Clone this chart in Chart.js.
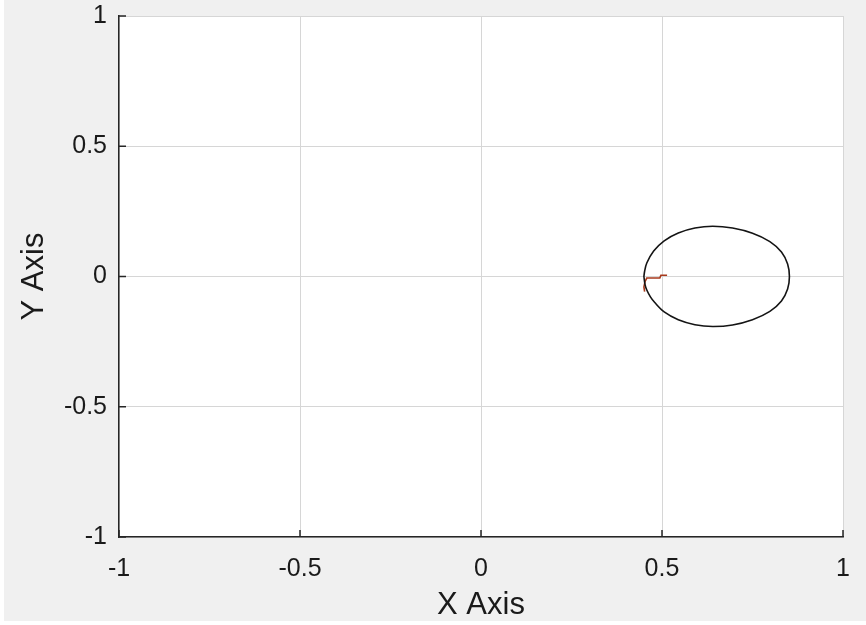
<!DOCTYPE html>
<html lang="en">
<head>
<meta charset="UTF-8">
<title>X / Y trajectory</title>
<script src="https://cdn.jsdelivr.net/npm/chart.js"></script>
<style>
  html, body { margin: 0; padding: 0; background: #fff; }
  canvas { display: block; }
</style>
</head>
<body>
<canvas id="plot" width="866" height="625"></canvas>
<script>
const xTicks = [-1, -0.5, 0, 0.5, 1];
const yTicks = [-1, -0.5, 0, 0.5, 1];

// closed loop
const loopX = [0.450, 0.453, 0.458, 0.468, 0.480, 0.506, 0.545, 0.591, 0.640, 0.695, 0.750, 0.798, 0.830, 0.847, 0.852,
               0.847, 0.830, 0.798, 0.750, 0.695, 0.640, 0.591, 0.545, 0.506, 0.477, 0.458, 0.452, 0.450];
const loopY = [0.000, -0.030, -0.052, -0.078, -0.100, -0.136, -0.166, -0.185, -0.192, -0.186, -0.166, -0.134, -0.094, -0.048, 0.000,
               0.048, 0.094, 0.134, 0.166, 0.186, 0.193, 0.186, 0.167, 0.137, 0.098, 0.052, 0.020, 0.000];

// short red start segment
const startX = [0.452, 0.450, 0.453, 0.458, 0.494, 0.497, 0.514];
const startY = [-0.058, -0.040, -0.020, -0.006, -0.006, 0.005, 0.005];

const FONT = "'Liberation Sans', Arial, Helvetica, sans-serif";
const INK = '#1a1a1a';

function pairs(xs, ys) {
    return xs.map((x, i) => ({ x: x, y: ys[i] }));
}

const bgPlugin = {
    id: 'bg',
    beforeDraw(chart) {
        const c = chart.ctx, a = chart.chartArea;
        c.save();
        c.fillStyle = '#ffffff';
        c.fillRect(0, 0, chart.width, chart.height);
        c.fillStyle = '#f0f0f0';
        c.fillRect(4, 0, chart.width - 4, 621);
        c.fillStyle = '#ffffff';
        c.fillRect(a.left, a.top, a.right - a.left, a.bottom - a.top);
        c.restore();
    }
};

// matlab style inward ticks on left and bottom axes
const innerTicks = {
    id: 'innerTicks',
    afterDraw(chart) {
        const c = chart.ctx, a = chart.chartArea;
        const sx = chart.scales.x, sy = chart.scales.y;
        c.save();
        c.strokeStyle = '#262626';
        c.lineWidth = 1.5;
        c.beginPath();
        xTicks.forEach(v => {
            const px = sx.getPixelForValue(v);
            c.moveTo(px, a.bottom);
            c.lineTo(px, a.bottom - 7);
        });
        yTicks.forEach(v => {
            const py = sy.getPixelForValue(v);
            c.moveTo(a.left, py);
            c.lineTo(a.left + 7, py);
        });
        c.stroke();
        c.restore();
    }
};

new Chart(document.getElementById('plot'), {
    type: 'scatter',
    data: {
        datasets: [
            { data: pairs(loopX, loopY), showLine: true, borderColor: '#141414', borderWidth: 1.6, pointRadius: 0, tension: 0.35 },
            { data: pairs(startX, startY), showLine: true, borderColor: '#a83a1c', borderWidth: 1.6, pointRadius: 0, tension: 0 }
        ]
    },
    options: {
        responsive: false,
        animation: false,
        layout: { padding: { top: 16, right: 23, left: 0, bottom: 0 } },
        plugins: { legend: { display: false }, tooltip: { enabled: false } },
        scales: {
            x: {
                type: 'linear', min: -1, max: 1,
                afterBuildTicks: s => { s.ticks = xTicks.map(v => ({ value: v })); },
                afterFit: s => { s.height = 88; s.paddingLeft = 0; s.paddingRight = 0; },
                grid: { color: '#d6d6d6', drawTicks: false },
                border: { color: '#262626', width: 1.5 },
                ticks: { color: INK, font: { family: FONT, size: 25 }, padding: 17, maxRotation: 0, callback: v => String(v) },
                title: { display: true, text: 'X Axis', color: INK, font: { family: FONT, size: 31 }, padding: { top: 0, bottom: 1 } }
            },
            y: {
                type: 'linear', min: -1, max: 1,
                afterBuildTicks: s => { s.ticks = yTicks.map(v => ({ value: v })); },
                afterFit: s => { s.width = 119; s.paddingTop = 0; s.paddingBottom = 0; },
                grid: { color: '#d6d6d6', drawTicks: false },
                border: { color: '#262626', width: 1.5 },
                ticks: { color: INK, font: { family: FONT, size: 25 }, padding: 12, callback: v => String(v) },
                title: { display: true, text: 'Y Axis', color: INK, font: { family: FONT, size: 31 }, padding: { top: 16, bottom: 0 } }
            }
        }
    },
    plugins: [bgPlugin, innerTicks]
});
</script>
</body>
</html>
